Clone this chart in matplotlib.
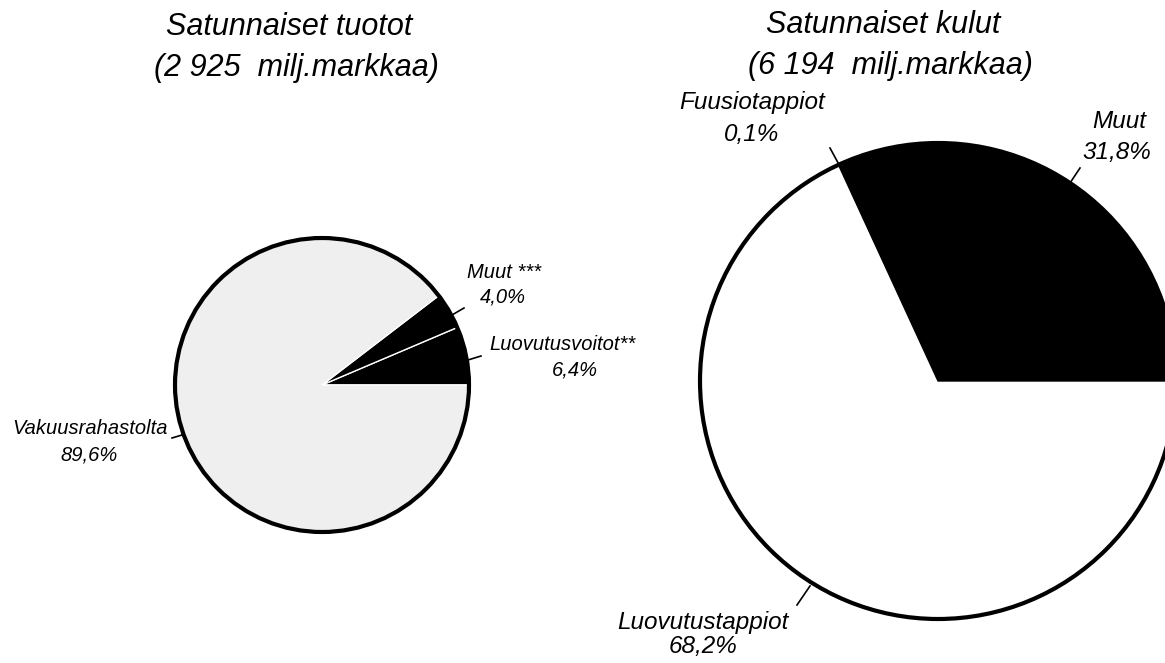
import matplotlib
matplotlib.use("Agg")
import matplotlib.pyplot as plt
from matplotlib.patches import Circle

W, H = 1165, 663

# Data
left_title = ["Satunnaiset tuotot", "(2 925  milj.markkaa)"]
left_labels = ["Luovutusvoitot**", "Muut ***", "Vakuusrahastolta"]
left_values = [6.4, 4.0, 89.6]
left_colors = ["#000000", "#000000", "#efefef"]

right_title = ["Satunnaiset kulut", "(6 194  milj.markkaa)"]
right_labels = ["Muut", "Fuusiotappiot", "Luovutustappiot"]
right_values = [31.8, 0.1, 68.2]
right_colors = ["#000000", "#ffffff", "#ffffff"]

def pct(v):
    return f"{v:.1f}%".replace(".", ",")

plt.rcParams['font.family'] = ['Liberation Sans', 'DejaVu Sans']

fig = plt.figure(figsize=(W / 100, H / 100), dpi=100)
ax = fig.add_axes([0, 0, 1, 1])
ax.set_xlim(0, W)
ax.set_ylim(0, H)
ax.set_aspect('equal')
ax.axis('off')

def Y(y):
    return H - y

# Left pie
lc, lr = (322, Y(385)), 147
ax.pie(left_values, colors=left_colors, startangle=0, counterclock=True,
       center=lc, radius=lr, frame=True,
       wedgeprops=dict(edgecolor='white', linewidth=1.0))
ax.add_patch(Circle(lc, lr, fill=False, edgecolor='black', linewidth=3, zorder=5))

# Right pie
rc, rr = (938, Y(381)), 238
ax.pie(right_values, colors=right_colors, startangle=0, counterclock=True,
       center=rc, radius=rr, frame=True,
       wedgeprops=dict(edgecolor='black', linewidth=1.0))
ax.add_patch(Circle(rc, rr, fill=False, edgecolor='black', linewidth=3, zorder=5))

ax.set_xlim(0, W)
ax.set_ylim(0, H)
ax.axis('off')

tk = dict(style='italic', ha='center', va='center', color='black')

# Titles
ax.text(289, Y(27), left_title[0], fontsize=22, **tk)
ax.text(296, Y(68), left_title[1], fontsize=22, **tk)
ax.text(883, Y(25), right_title[0], fontsize=22, **tk)
ax.text(890, Y(66), right_title[1], fontsize=22, **tk)

# Left labels
ax.text(504, Y(272), left_labels[1], fontsize=14.5, **tk)
ax.text(503, Y(297), pct(left_values[1]), fontsize=14.5, **tk)
ax.plot([452, 464], [Y(315), Y(308)], color='black', lw=1.2)

ax.text(562, Y(345), left_labels[0], fontsize=14.5, **tk)
ax.text(575, Y(370), pct(left_values[0]), fontsize=14.5, **tk)
ax.plot([468, 481], [Y(360), Y(356)], color='black', lw=1.2)

ax.text(90, Y(429), left_labels[2], fontsize=14.5, **tk)
ax.text(89, Y(455), pct(left_values[2]), fontsize=14.5, **tk)
ax.plot([172, 182], [Y(438), Y(435)], color='black', lw=1.2)

# Right labels
ax.text(1119, Y(122), right_labels[0], fontsize=17.5, **tk)
ax.text(1117, Y(153), pct(right_values[0]), fontsize=17.5, **tk)
ax.plot([1068, 1080], [Y(186), Y(168)], color='black', lw=1.2)

ax.text(752, Y(103), right_labels[1], fontsize=17.5, **tk)
ax.text(752, Y(135), pct(right_values[1]), fontsize=17.5, **tk)
ax.plot([830, 843], [Y(148), Y(172)], color='black', lw=1.2)

ax.text(703, Y(622), right_labels[2], fontsize=17.5, **tk)
ax.text(703, Y(646), pct(right_values[2]), fontsize=17.5, **tk)
ax.plot([797, 810], [Y(605), Y(586)], color='black', lw=1.2)

fig.savefig("out.png", dpi=100)
